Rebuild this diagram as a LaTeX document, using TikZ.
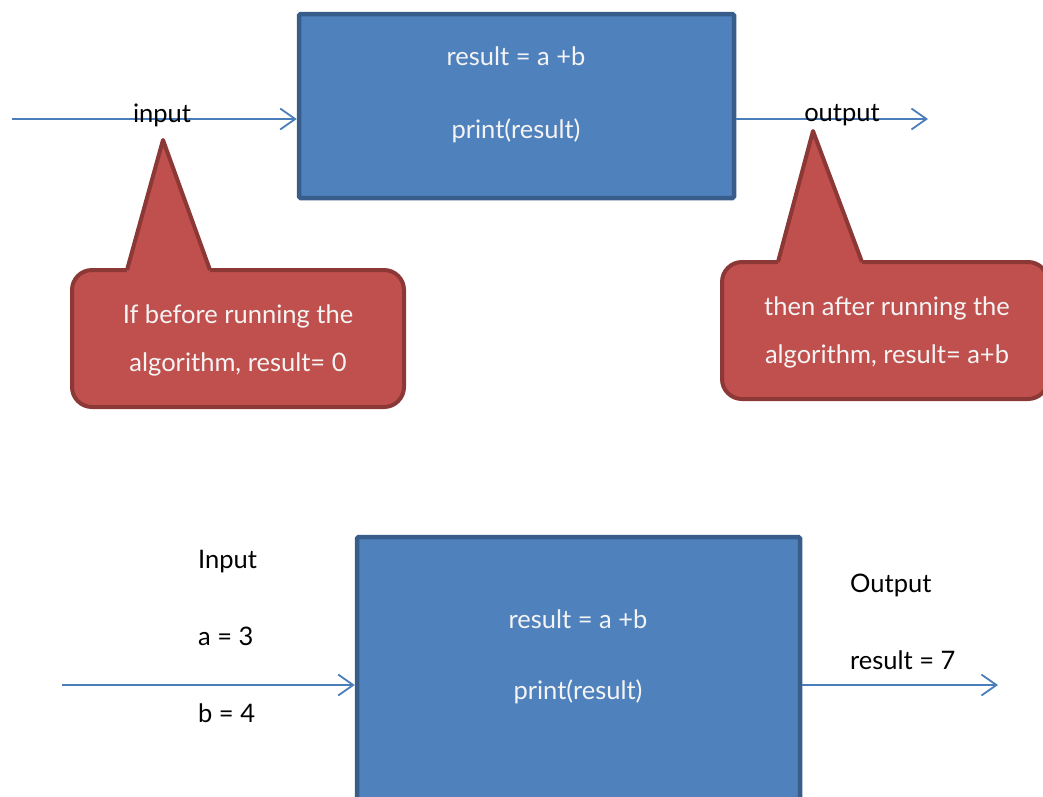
\documentclass[tikz,border=0pt]{standalone}
\usepackage{fontspec}
\setmainfont{Lato}
\usetikzlibrary{arrows.meta}
\definecolor{procfill}{HTML}{4F81BD}
\definecolor{procline}{HTML}{385D8A}
\definecolor{notefill}{HTML}{C0504D}
\definecolor{noteline}{HTML}{8C3836}
\definecolor{flow}{HTML}{4A7EBB}
\definecolor{notetext}{HTML}{F4F4F4}

\begin{document}
\begin{tikzpicture}[x=1pt,y=-1pt,
  procbox/.style={draw=procline, fill=procfill, line width=4.5pt, rounded corners=1.5pt, inner sep=0pt},
  proctext/.style={text=notetext, inner sep=0pt, font=\fontsize{25.5}{30}\selectfont},
  flowarrow/.style={draw=flow, line width=1.8pt, -{Straight Barb[length=15pt,width=21pt]}},
  flowlabel/.style={text=black, inner sep=0pt, font=\fontsize{25.5}{30}\selectfont},
  notebody/.style={fill=notefill, draw=noteline, line width=4pt, line join=round},
  notepatch/.style={fill=notefill},
  notelabel/.style={text=notetext, inner sep=0pt, align=center, font=\fontsize{25.5}{48}\selectfont}]
\useasboundingbox (0,0) rectangle (1043,796);
\clip (0,0) rectangle (1043,796);

% ---------- upper process ----------
\node[procbox, minimum width=435pt, minimum height=184pt] (tbox) at (516.5,106) {};
\node[proctext] (tsum) at (516,56) {result = a +b};
\node[proctext] (tprint) at (516,131) {print(result)};

\coordinate (tin) at (12,119);
\coordinate (tout) at (928,119);
\draw[flowarrow] (tin) -- (tin -| tbox.west);
\draw[flowarrow] (tout -| tbox.east) -- (tout);
\node[flowlabel] (tinlabel) at (162,115) {input};
\node[flowlabel] (toutlabel) at (842,115) {output};

% ---------- left note ----------
\draw[notebody, rounded corners=20pt] (72,270) rectangle (404,407);
\fill[notepatch] (127,275) -- (127,270) -- (163,140) -- (210,270) -- (210,275) -- cycle;
\draw[notebody, fill=none] (127,270) -- (163,140) -- (210,270);
\node[notelabel] (lnote) at (238,340) {If before running the\\algorithm, result= 0};

% ---------- right note ----------
\draw[notebody, rounded corners=20pt] (722,262) rectangle (1048,399);
\fill[notepatch] (778,267) -- (778,262) -- (813,131) -- (862,262) -- (862,267) -- cycle;
\draw[notebody, fill=none] (778,262) -- (813,131) -- (862,262);
\node[notelabel] (rnote) at (887,332) {then after running the\\algorithm, result= a+b};

% ---------- lower process ----------
\node[procbox, minimum width=443pt, minimum height=296pt] (bbox) at (578.5,685) {};
\node[proctext] (bsum) at (578,619) {result = a +b};
\node[proctext] (bprint) at (578,692) {print(result)};

\coordinate (bin) at (62,685);
\coordinate (bout) at (998,685);
\draw[flowarrow] (bin) -- (bin -| bbox.west);
\draw[flowarrow] (bout -| bbox.east) -- (bout);

\node[flowlabel, anchor=west] (binhead) at (198,562) {Input};
\node[flowlabel, anchor=west] (bina) at (198,636) {a = 3};
\node[flowlabel, anchor=west] (binb) at (198,713) {b = 4};
\node[flowlabel, anchor=west] (bouthead) at (850,585) {Output};
\node[flowlabel, anchor=west] (boutres) at (850,660) {result = 7};
\end{tikzpicture}
\end{document}
